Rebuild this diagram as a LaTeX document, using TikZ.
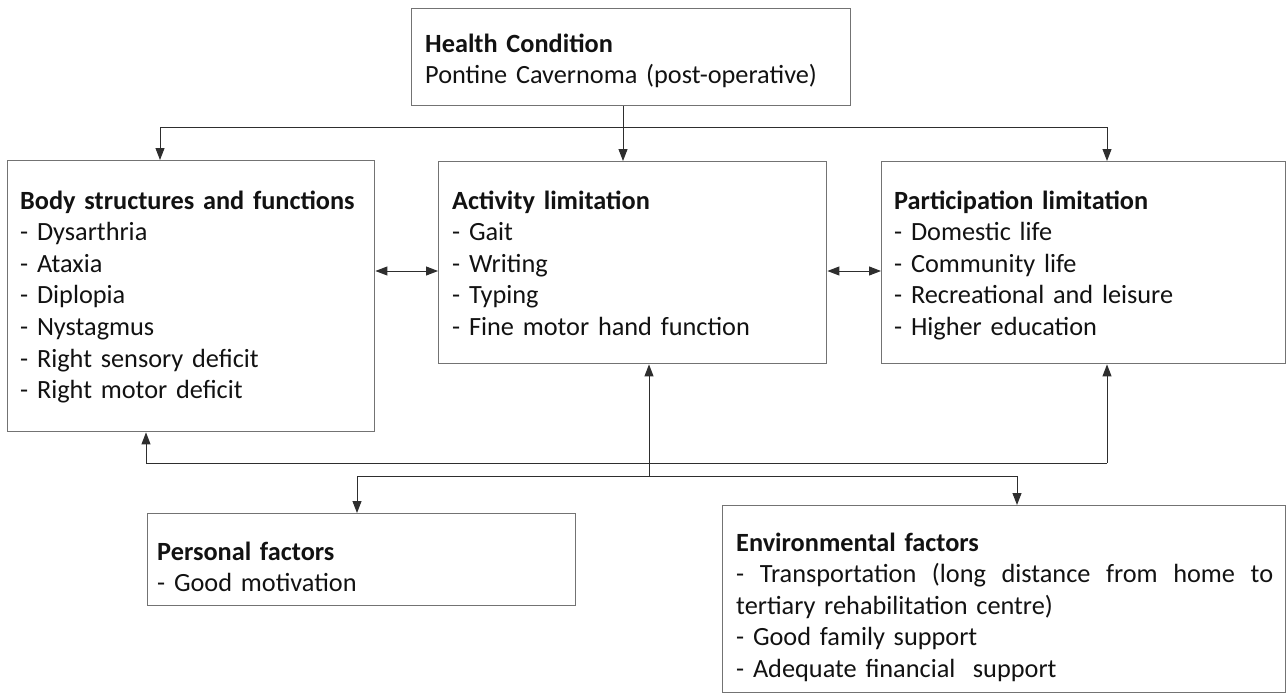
\documentclass[tikz,border=0pt]{standalone}
\usepackage{fontspec}
\setmainfont{Carlito}
\usetikzlibrary{arrows.meta}
\tikzset{
  box/.style={draw=black!55, line width=1.4pt, rectangle, anchor=north west, inner sep=0pt},
  txt/.style={anchor=base west, inner sep=0pt, align=left,
    font=\fontsize{26.3}{31.6}\selectfont, text=black!93},
  conn/.style={draw=black!82, line width=1pt},
  arr/.style={conn, -{Triangle[length=12pt,width=9pt]}},
  darr/.style={conn, {Triangle[length=12pt,width=9pt]}-{Triangle[length=12pt,width=9pt]}},
}
\begin{document}
\begin{tikzpicture}[x=1pt,y=-1pt]
\useasboundingbox (0,0) rectangle (1287,696);
% boxes
\node[box, minimum width=439pt, minimum height=97pt] (health) at (411,8) {};
\node[box, minimum width=367pt, minimum height=271pt] (body) at (7,160) {};
\node[box, minimum width=388pt, minimum height=202pt] (act) at (438,161) {};
\node[box, minimum width=404pt, minimum height=202pt] (part) at (881,161) {};
\node[box, minimum width=428pt, minimum height=92pt] (pers) at (147,513) {};
\node[box, minimum width=563pt, minimum height=187pt] (env) at (722,505) {};
% texts
\node[txt, text width=410pt] (healtht) at ([xshift=14pt,yshift=-44pt]health.north west)
  {\textbf{Health Condition}\\Pontine Cavernoma (post-operative)};
\node[txt, text width=340pt] (bodyt) at ([xshift=13pt,yshift=-49pt]body.north west)
  {\textbf{Body structures and functions}\\- Dysarthria\\- Ataxia\\- Diplopia\\- Nystagmus\\- Right sensory deficit\\- Right motor deficit};
\node[txt, text width=360pt] (actt) at ([xshift=14pt,yshift=-48pt]act.north west)
  {\textbf{Activity limitation}\\- Gait\\- Writing\\- Typing\\- Fine motor hand function};
\node[txt, text width=380pt] (partt) at ([xshift=13pt,yshift=-48pt]part.north west)
  {\textbf{Participation limitation}\\- Domestic life\\- Community life\\- Recreational and leisure\\- Higher education};
\node[txt, text width=400pt] (perst) at ([xshift=10pt,yshift=-47pt]pers.north west)
  {\textbf{Personal factors}\\- Good motivation};
\node[txt, text width=537pt] (envt) at ([xshift=14pt,yshift=-46pt]env.north west)
  {\textbf{Environmental factors}\\\makebox[537pt][l]{-\hfill Transportation\hfill (long\hfill distance\hfill from\hfill home\hfill to}\\tertiary rehabilitation centre)\\- Good family support\\- Adequate financial\ \ support};
% top bus
\coordinate (tl) at (160,127);
\coordinate (tr) at (1107,127);
\coordinate (tc) at (623,127);
\draw[conn] (tl) -- (tr);
\draw[arr] (tl) -- (tl |- body.north);
\draw[arr] (tr) -- (tr |- part.north);
\draw[arr] (health.south -| tc) -- (tc |- act.north);
% side double arrows
\coordinate (mid) at (0,271);
\draw[darr] (body.east |- mid) -- (act.west |- mid);
\draw[darr] (act.east |- mid) -- (part.west |- mid);
% bottom bus
\coordinate (bl) at (146,463);
\coordinate (br) at (1107,463);
\coordinate (bc) at (649,476);
\draw[conn] (bl) -- (br);
\draw[arr] (bl) -- (bl |- body.south);
\draw[arr] (br) -- (br |- part.south);
\draw[arr] (bc) -- (bc |- act.south);
% lower bus
\coordinate (pl) at (357,476);
\coordinate (pr) at (1017,476);
\draw[conn] (pl) -- (pr);
\draw[arr] (pl) -- (pl |- pers.north);
\draw[arr] (pr) -- (pr |- env.north);
\end{tikzpicture}
\end{document}
